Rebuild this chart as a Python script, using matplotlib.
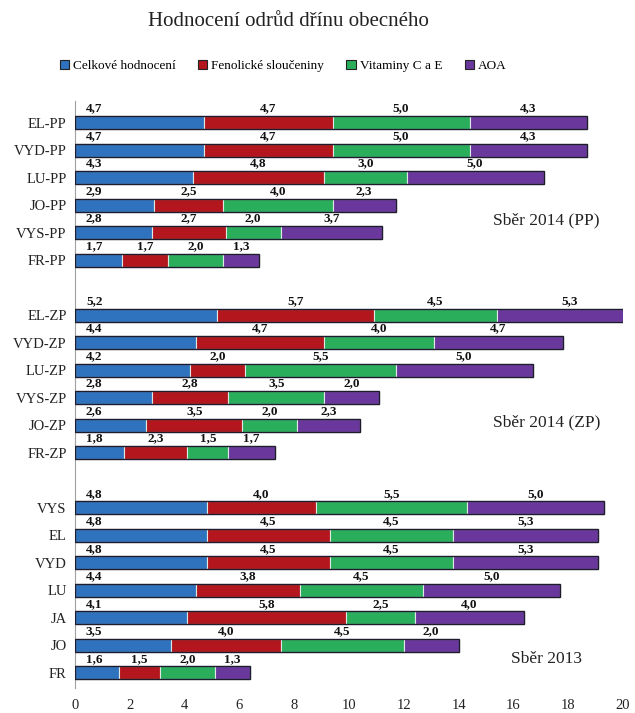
import matplotlib
matplotlib.use("Agg")
import matplotlib.pyplot as plt
import numpy as np

plt.rcParams['font.family'] = ['Liberation Serif', 'DejaVu Serif']

# Rating groups, listed top to bottom
groups = ["Sběr 2014 (PP)", "Sběr 2014 (ZP)", "Sběr 2013"]

cats_pp = ["EL-PP", "VYD-PP", "LU-PP", "JO-PP", "VYS-PP", "FR-PP"]
celk_pp = [4.7, 4.7, 4.3, 2.9, 2.8, 1.7]
fen_pp = [4.7, 4.7, 4.8, 2.5, 2.7, 1.7]
vit_pp = [5.0, 5.0, 3.0, 4.0, 2.0, 2.0]
aoa_pp = [4.3, 4.3, 5.0, 2.3, 3.7, 1.3]

cats_zp = ["EL-ZP", "VYD-ZP", "LU-ZP", "VYS-ZP", "JO-ZP", "FR-ZP"]
celk_zp = [5.2, 4.4, 4.2, 2.8, 2.6, 1.8]
fen_zp = [5.7, 4.7, 2.0, 2.8, 3.5, 2.3]
vit_zp = [4.5, 4.0, 5.5, 3.5, 2.0, 1.5]
aoa_zp = [5.3, 4.7, 5.0, 2.0, 2.3, 1.7]

cats_13 = ["VYS", "EL", "VYD", "LU", "JA", "JO", "FR"]
celk_13 = [4.8, 4.8, 4.8, 4.4, 4.1, 3.5, 1.6]
fen_13 = [4.0, 4.5, 4.5, 3.8, 5.8, 4.0, 1.5]
vit_13 = [5.5, 4.5, 4.5, 4.5, 2.5, 4.5, 2.0]
aoa_13 = [5.0, 5.3, 5.3, 5.0, 4.0, 2.0, 1.3]

series_names = ["Celkové hodnocení", "Fenolické sloučeniny", "Vitaminy C a E", "AOA"]
colors = ["#2f72bd", "#b3161c", "#2aae5c", "#6a389c"]
xticks = [0, 2, 4, 6, 8, 10, 12, 14, 16, 18, 20]

blocks = [
    (cats_pp, [celk_pp, fen_pp, vit_pp, aoa_pp]),
    (cats_zp, [celk_zp, fen_zp, vit_zp, aoa_zp]),
    (cats_13, [celk_13, fen_13, vit_13, aoa_13]),
]

# Assemble rows with one empty row between groups
labels, rows, vals, group_rows = [], [], [], []
pos = 0
for cats, series in blocks:
    start = pos
    for i, c in enumerate(cats):
        labels.append(c)
        rows.append(pos)
        vals.append([s[i] for s in series])
        pos += 1
    group_rows.append((start, pos - 1))
    pos += 1
vals = np.array(vals)
rows = np.array(rows)

W, H = 635, 713
fig = plt.figure(figsize=(W / 100, H / 100), dpi=100)
ax = fig.add_axes([75 / W, 0.0351, 548 / W, 0.823])

bar_h = 0.47
left = np.zeros(len(rows))
for k in range(4):
    ax.barh(rows, vals[:, k], left=left, height=bar_h, color=colors[k],
            edgecolor="#dfe8e4", linewidth=0.8, label=series_names[k], zorder=2)
    left = left + vals[:, k]
# dark outline around each complete bar
ax.barh(rows, left, height=bar_h, facecolor="none", edgecolor="#1c1c2c",
        linewidth=1.0, zorder=3)

# value labels above the segments
for r, v in zip(rows, vals):
    starts = np.concatenate([[0], np.cumsum(v)[:-1]])
    for k in range(4):
        x = 0.7 if k == 0 else starts[k] + v[k] / 2
        ax.text(x, r - bar_h / 2 - 0.06, f"{v[k]:.1f}".replace(".", ","),
                ha="center", va="bottom", fontsize=9.5, fontweight="bold",
                color="#111111", zorder=4)

# group captions on the right
group_y = [group_rows[0][1] - 1.45, group_rows[1][1] - 1.1, group_rows[2][1] - 0.5]
group_x = [17.2, 17.2, 17.2]
for g, gy, gx in zip(groups, group_y, group_x):
    ax.text(gx, gy, g, ha="center", va="center", fontsize=12.5, color="#222222")

ax.set_xlim(0, 20)
ax.set_ylim(rows[-1] + 0.55, -0.78)
ax.set_yticks(rows)
ax.set_yticklabels(labels, fontsize=10.5)
ax.set_xticks(xticks)
ax.set_xticklabels([str(t) for t in xticks], fontsize=10.5)
ax.tick_params(axis="both", length=0, colors="#222222")
ax.tick_params(axis="x", pad=8)
ax.tick_params(axis="y", pad=6)
for s in ["top", "right", "bottom"]:
    ax.spines[s].set_visible(False)
ax.spines["left"].set_color("#a0a0a0")
ax.spines["left"].set_linewidth(0.8)

fig.text(288 / W, 1 - 22 / H, "Hodnocení odrůd dřínu obecného",
         ha="center", va="center", fontsize=15, color="#222222")

handles = [plt.Rectangle((0, 0), 1, 1, facecolor=c, edgecolor="#222222", linewidth=0.8)
           for c in colors]
fig.legend(handles, series_names, loc="center", bbox_to_anchor=(283 / W, 1 - 66 / H),
           ncol=4, frameon=False, fontsize=9.5, handlelength=0.7, handleheight=0.7,
           handletextpad=0.3, columnspacing=1.7)

fig.savefig("out.png", dpi=100, facecolor="white")
